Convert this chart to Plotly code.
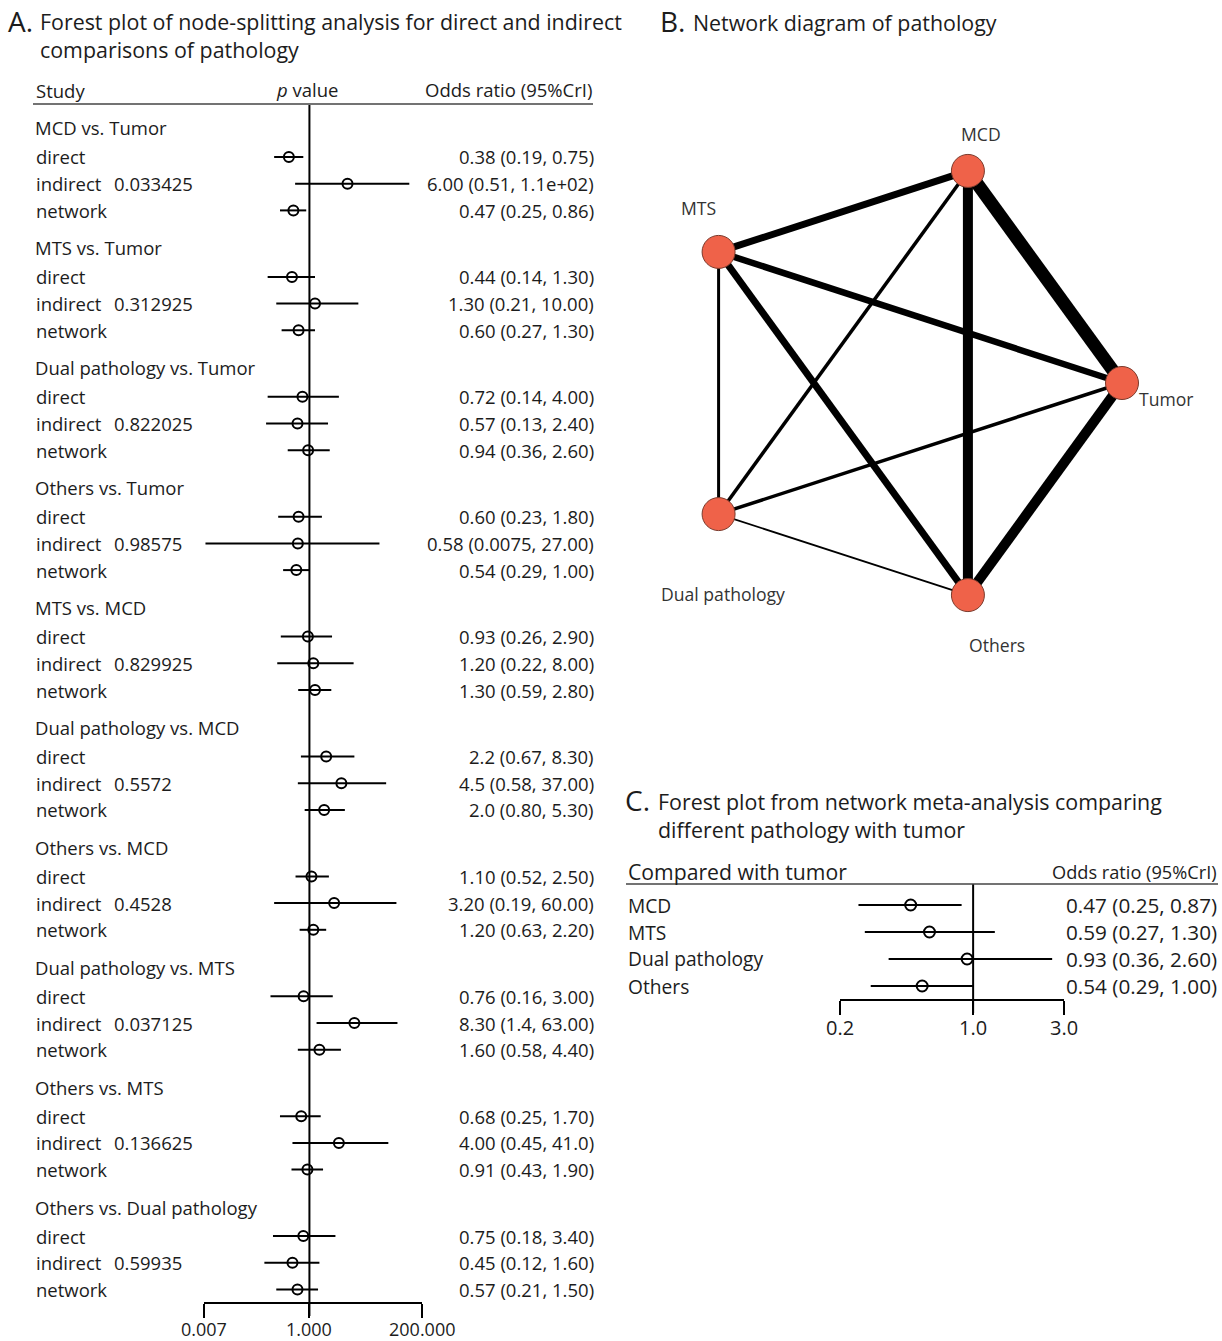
import math
import plotly.graph_objects as go

W, H = 1222, 1341
FONT = "Open Sans"
INK = "#1c1c1c"

# ---------------- Panel A: node-splitting forest plot ----------------
comparisons = [
    "MCD vs. Tumor", "MTS vs. Tumor", "Dual pathology vs. Tumor", "Others vs. Tumor",
    "MTS vs. MCD", "Dual pathology vs. MCD", "Others vs. MCD",
    "Dual pathology vs. MTS", "Others vs. MTS", "Others vs. Dual pathology",
]
evidence = ["direct", "indirect", "network"]
p_values = ["0.033425", "0.312925", "0.822025", "0.98575", "0.829925",
            "0.5572", "0.4528", "0.037125", "0.136625", "0.59935"]
# odds ratios as printed: [direct, indirect, network] for each comparison
or_est = [
    ["0.38", "6.00", "0.47"], ["0.44", "1.30", "0.60"], ["0.72", "0.57", "0.94"],
    ["0.60", "0.58", "0.54"], ["0.93", "1.20", "1.30"], ["2.2", "4.5", "2.0"],
    ["1.10", "3.20", "1.20"], ["0.76", "8.30", "1.60"], ["0.68", "4.00", "0.91"],
    ["0.75", "0.45", "0.57"],
]
or_low = [
    ["0.19", "0.51", "0.25"], ["0.14", "0.21", "0.27"], ["0.14", "0.13", "0.36"],
    ["0.23", "0.0075", "0.29"], ["0.26", "0.22", "0.59"], ["0.67", "0.58", "0.80"],
    ["0.52", "0.19", "0.63"], ["0.16", "1.4", "0.58"], ["0.25", "0.45", "0.43"],
    ["0.18", "0.12", "0.21"],
]
or_high = [
    ["0.75", "1.1e+02", "0.86"], ["1.30", "10.00", "1.30"], ["4.00", "2.40", "2.60"],
    ["1.80", "27.00", "1.00"], ["2.90", "8.00", "2.80"], ["8.30", "37.00", "5.30"],
    ["2.50", "60.00", "2.20"], ["3.00", "63.00", "4.40"], ["1.70", "41.0", "1.90"],
    ["3.40", "1.60", "1.50"],
]
ticks_a = [0.007, 1.0, 200.0]
ticklabels_a = ["0.007", "1.000", "200.000"]

# ---------------- Panel B: network diagram ----------------
nodes = ["Tumor", "MCD", "MTS", "Dual pathology", "Others"]
edges = [
    ("MCD", "Tumor"), ("MCD", "Others"), ("Tumor", "Others"), ("MCD", "MTS"),
    ("MTS", "Tumor"), ("MTS", "Others"), ("MCD", "Dual pathology"),
    ("Dual pathology", "Tumor"), ("MTS", "Dual pathology"), ("Dual pathology", "Others"),
]
edge_width = [13, 10, 10, 7, 6.5, 7, 3.5, 3.5, 3, 1.8]

# ---------------- Panel C: network estimates vs tumor ----------------
compared = ["MCD", "MTS", "Dual pathology", "Others"]
c_est = ["0.47", "0.59", "0.93", "0.54"]
c_low = ["0.25", "0.27", "0.36", "0.29"]
c_high = ["0.87", "1.30", "2.60", "1.00"]
ticks_c = [0.2, 1.0, 3.0]
ticklabels_c = ["0.2", "1.0", "3.0"]


def px(x):
    return x / W


def py(y):
    return 1 - y / H


def log_paper(v, dom_px, rng):
    """paper x of value v on a log axis spanning dom_px (pixels) over rng (values)."""
    lo, hi = math.log10(rng[0]), math.log10(rng[1])
    return px(dom_px[0] + (math.log10(v) - lo) / (hi - lo) * (dom_px[1] - dom_px[0]))


fig = go.Figure()
ann = []
shapes = []


def text(x, y, s, size, anchor="left", yref="paper", color=INK, xref="paper"):
    ann.append(dict(x=x, y=y, xref=xref, yref=yref, text=s, showarrow=False,
                    xanchor=anchor, yanchor="middle", align="left", borderpad=0,
                    font=dict(family=FONT, size=size, color=color)))


# ---- Panel A layout (y axis in pixel rows, top = 105, axis line = 1302)
A_DOM = (204, 422)
A_TOP, A_AXIS = 105, 1302
FIRST_HEADER, GROUP_STEP, HEAD_GAP, ROW_STEP = 128, 119.9, 29, 26.7

seg_x, seg_y, pt_x, pt_y = [], [], [], []
for g, name in enumerate(comparisons):
    hy = FIRST_HEADER + g * GROUP_STEP
    text(px(34), hy, name, 18.5, yref="y")
    for k, ev in enumerate(evidence):
        ry = hy + HEAD_GAP + k * ROW_STEP
        e, lo, hi = (float(or_est[g][k]), float(or_low[g][k]), float(or_high[g][k]))
        seg_x += [lo, hi, None]
        seg_y += [ry, ry, None]
        pt_x.append(e)
        pt_y.append(ry)
        text(px(35), ry, ev, 18.5, yref="y")
        if ev == "indirect":
            text(px(113), ry, p_values[g], 18.5, yref="y")
        text(px(595), ry, f"{or_est[g][k]} ({or_low[g][k]}, {or_high[g][k]})",
             18.5, anchor="right", yref="y")

fig.add_trace(go.Scatter(x=seg_x, y=seg_y, mode="lines", line=dict(color="black", width=2),
                         xaxis="x", yaxis="y", showlegend=False, hoverinfo="skip"))
fig.add_trace(go.Scatter(x=pt_x, y=pt_y, mode="markers",
                         marker=dict(symbol="circle-open", size=10, color="black",
                                     line=dict(width=2)),
                         xaxis="x", yaxis="y", showlegend=False, cliponaxis=False))

# axis tick labels (placed just under the bracket-style ticks)
for v, lab in zip(ticks_a, ticklabels_a):
    text(math.log10(v), py(1329), lab, 18, anchor="center", xref="x")

# reference line at OR = 1 and header rule
xr = log_paper(1.0, A_DOM, (ticks_a[0], ticks_a[-1]))
shapes.append(dict(type="line", xref="paper", yref="paper", x0=xr, x1=xr,
                   y0=py(1316), y1=py(A_TOP), line=dict(color="black", width=2)))
shapes.append(dict(type="line", xref="paper", yref="paper", x0=px(33), x1=px(593),
                   y0=py(104), y1=py(104), line=dict(color="#444", width=1.5)))
text(px(35), py(90), "Study", 18.5)
text(px(307), py(89), "<i>p</i> value", 18.5, anchor="center")
text(px(593), py(89), "Odds ratio (95%CrI)", 18.5, anchor="right")

# panel A title
text(px(7), py(21), "A.", 28)
text(px(39), py(36),
     "Forest plot of node-splitting analysis for direct and indirect<br>"
     "comparisons of pathology", 21.4)

# ---- Panel C layout
C_DOM = (840, 1064)
C_TOP, C_AXIS = 884, 999
C_FIRST, C_STEP = 905, 27
cx, cy, cpx, cpy = [], [], [], []
for i, name in enumerate(compared):
    ry = C_FIRST + i * C_STEP
    cx += [float(c_low[i]), float(c_high[i]), None]
    cy += [ry, ry, None]
    cpx.append(float(c_est[i]))
    cpy.append(ry)
    text(px(627), py(ry), name, 19.2)
    text(px(1218), py(ry), f"{c_est[i]} ({c_low[i]}, {c_high[i]})", 20.7, anchor="right")

fig.add_trace(go.Scatter(x=cx, y=cy, mode="lines", line=dict(color="black", width=2),
                         xaxis="x2", yaxis="y2", showlegend=False, hoverinfo="skip"))
fig.add_trace(go.Scatter(x=cpx, y=cpy, mode="markers",
                         marker=dict(symbol="circle-open", size=11, color="black",
                                     line=dict(width=2)),
                         xaxis="x2", yaxis="y2", showlegend=False, cliponaxis=False))
for v, lab in zip(ticks_c, ticklabels_c):
    text(math.log10(v), py(1027), lab, 20, anchor="center", xref="x2")

xr2 = log_paper(1.0, C_DOM, (ticks_c[0], ticks_c[-1]))
shapes.append(dict(type="line", xref="paper", yref="paper", x0=xr2, x1=xr2,
                   y0=py(1013), y1=py(C_TOP), line=dict(color="black", width=2)))
shapes.append(dict(type="line", xref="paper", yref="paper", x0=px(626), x1=px(1218),
                   y0=py(884), y1=py(884), line=dict(color="#444", width=1.5)))
text(px(627), py(871), "Compared with tumor", 21.2)
text(px(1218), py(872), "Odds ratio (95%CrI)", 18.2, anchor="right")
text(px(624), py(800), "C.", 28)
text(px(657), py(815),
     "Forest plot from network meta-analysis comparing<br>"
     "different pathology with tumor", 21.4)

# ---- Panel B: nodes on a regular pentagon
pos = {n: (math.cos(math.radians(72 * i)), math.sin(math.radians(72 * i)))
       for i, n in enumerate(nodes)}
for (a, b), w in zip(edges, edge_width):
    fig.add_trace(go.Scatter(x=[pos[a][0], pos[b][0]], y=[pos[a][1], pos[b][1]],
                             mode="lines", line=dict(color="black", width=w),
                             xaxis="x3", yaxis="y3", showlegend=False, hoverinfo="skip"))
fig.add_trace(go.Scatter(x=[pos[n][0] for n in nodes], y=[pos[n][1] for n in nodes],
                         mode="markers",
                         marker=dict(size=33, color="#EF6249",
                                     line=dict(color="#7a3a2c", width=1)),
                         xaxis="x3", yaxis="y3", showlegend=False, cliponaxis=False))
label_shift = {"Tumor": (44, -16), "MCD": (13, 37), "MTS": (-20, 44),
               "Dual pathology": (4, -80), "Others": (29, -50)}
for n in nodes:
    dx, dy = label_shift[n]
    ann.append(dict(x=pos[n][0], y=pos[n][1], xref="x3", yref="y3", text=n,
                    showarrow=False, xshift=dx, yshift=dy, xanchor="center",
                    yanchor="middle", borderpad=0,
                    font=dict(family=FONT, size=17.6, color="#333")))
text(px(659), py(21), "B.", 28)
text(px(692), py(23), "Network diagram of pathology", 21.4)

B_CX, B_CY, B_R, B_HALF = 899, 383, 223, 240
half = B_HALF / B_R

fig.update_layout(
    width=W, height=H, autosize=False,
    margin=dict(l=0, r=0, t=0, b=0, autoexpand=False),
    paper_bgcolor="white", plot_bgcolor="white", showlegend=False,
    annotations=ann, shapes=shapes,
    xaxis=dict(domain=[px(A_DOM[0]), px(A_DOM[1])], type="log",
               range=[math.log10(ticks_a[0]), math.log10(ticks_a[-1])],
               tickvals=ticks_a, showticklabels=False, ticks="outside", ticklen=14,
               tickwidth=2, tickcolor="black", showline=True, linewidth=2,
               linecolor="black", showgrid=False, zeroline=False, anchor="y",
               fixedrange=True, automargin=False),
    yaxis=dict(domain=[py(A_AXIS), py(A_TOP)], range=[A_AXIS, A_TOP], visible=False,
               anchor="x", fixedrange=True, automargin=False),
    xaxis2=dict(domain=[px(C_DOM[0]), px(C_DOM[1])], type="log",
                range=[math.log10(ticks_c[0]), math.log10(ticks_c[-1])],
                tickvals=ticks_c, showticklabels=False, ticks="outside", ticklen=14,
                tickwidth=2, tickcolor="black", showline=True, linewidth=2,
                linecolor="black", showgrid=False, zeroline=False, anchor="y2",
                fixedrange=True, automargin=False),
    yaxis2=dict(domain=[py(C_AXIS), py(C_TOP)], range=[C_AXIS, C_TOP], visible=False,
                anchor="x2", fixedrange=True, automargin=False),
    xaxis3=dict(domain=[px(B_CX - B_HALF), px(B_CX + B_HALF)], range=[-half, half],
                visible=False, anchor="y3", fixedrange=True, automargin=False),
    yaxis3=dict(domain=[py(B_CY + B_HALF), py(B_CY - B_HALF)], range=[-half, half],
                visible=False, anchor="x3", fixedrange=True, automargin=False),
)

fig.write_html("out.html")
